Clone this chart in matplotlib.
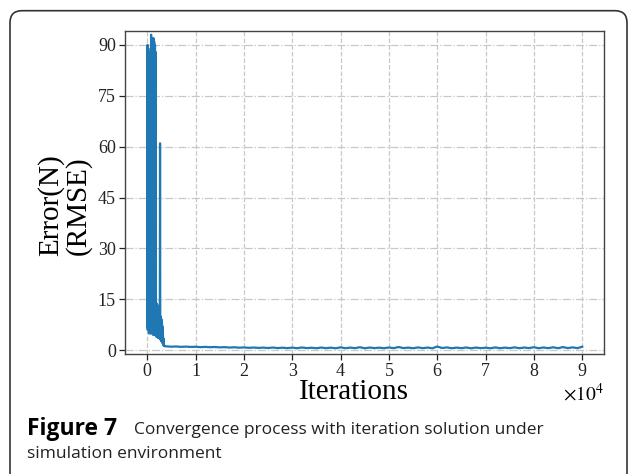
import matplotlib
matplotlib.use("Agg")
import matplotlib.pyplot as plt
import numpy as np
from matplotlib.patches import FancyBboxPatch
from matplotlib.transforms import IdentityTransform

# RMSE of the force estimate over the solver iterations
# early phase: dense oscillation while the solver searches
spike_iters = [0, 20, 40, 70, 100, 130, 160, 190, 220, 250, 280, 320, 360, 400,
               440, 480, 520, 560, 600, 640, 680, 720, 760, 800, 840, 880, 920,
               960, 1000, 1040, 1080, 1120, 1160, 1200, 1240, 1280, 1320, 1360,
               1400, 1440, 1480, 1520, 1560, 1600, 1640, 1680, 1720, 1760, 1800,
               1850, 1900, 1950, 2000, 2050, 2100, 2150, 2200, 2250, 2300, 2350,
               2400, 2450, 2500, 2550, 2600, 2650, 2700, 2750, 2800, 2850, 2900,
               2950, 3000, 3050, 3100, 3150, 3200, 3250, 3300, 3350, 3400, 3450,
               3500, 3600]
spike_err = [8, 52, 7, 90, 6, 84, 7, 88, 6, 80, 6, 38, 5, 44,
             6, 35, 5, 41, 6, 30, 5, 89, 6, 93, 5, 86, 5,
             92, 6, 88, 5, 91, 5, 84, 4.5, 92, 5, 87,
             4.5, 91, 5, 85, 4.5, 90, 4.5, 88, 4.5, 86, 4.5,
             14, 4, 13, 4, 13.5, 4, 12, 3.8, 13, 3.7, 11.5,
             3.6, 12, 3.5, 10.5, 3.4, 61, 3.3, 10, 3.0, 9.5, 2.8,
             9, 2.6, 8, 2.4, 7, 2.0, 5, 1.7, 3.5, 1.4, 2.0,
             1.3, 1.2]

# late phase: settled error, sampled every 1000 iterations
tail_iters = [4000, 5000, 6000, 7000, 8000, 9000, 10000, 11000, 12000, 13000,
              14000, 15000, 16000, 17000, 18000, 19000, 20000, 21000, 22000,
              23000, 24000, 25000, 26000, 27000, 28000, 29000, 30000, 31000,
              32000, 33000, 34000, 35000, 36000, 37000, 38000, 39000, 40000,
              41000, 42000, 43000, 44000, 45000, 46000, 47000, 48000, 49000,
              50000, 51000, 52000, 53000, 54000, 55000, 56000, 57000, 58000,
              59000, 60000, 61000, 62000, 63000, 64000, 65000, 66000, 67000,
              68000, 69000, 70000, 71000, 72000, 73000, 74000, 75000, 76000,
              77000, 78000, 79000, 80000, 81000, 82000, 83000, 84000, 85000,
              86000, 87000, 88000, 89000, 90000]
tail_err = [1.15, 1.05, 1.12, 1.00, 1.08, 0.98, 1.04, 0.92, 1.00, 0.90,
            0.96, 0.85, 0.92, 0.80, 0.88, 0.76, 0.84, 0.72, 0.80, 0.70,
            0.78, 0.66, 0.80, 0.64, 0.76, 0.62, 0.78, 0.60, 0.82, 0.64,
            0.74, 0.60, 0.80, 0.62, 0.76, 0.58, 0.86, 0.60, 0.78, 0.62,
            0.90, 0.58, 0.80, 0.64, 0.76, 0.60, 0.82, 0.62, 0.96, 0.64,
            0.78, 0.60, 0.84, 0.62, 0.80, 0.58, 1.10, 0.66, 0.84, 0.60,
            0.78, 0.62, 0.82, 0.58, 0.80, 0.62, 0.76, 0.58, 0.84, 0.60,
            0.78, 0.62, 0.86, 0.60, 0.80, 0.64, 0.90, 0.60, 0.82, 0.62,
            0.88, 0.60, 0.94, 0.64, 0.86, 0.62, 1.05]

iters = np.array(spike_iters + tail_iters) / 1e4
err = np.array(spike_err + tail_err)

xticks = [0, 1, 2, 3, 4, 5, 6, 7, 8, 9]
yticks = [0, 15, 30, 45, 60, 75, 90]

plt.rcParams['font.family'] = ['Liberation Serif', 'DejaVu Serif']
plt.rcParams['mathtext.fontset'] = 'stix'

fig = plt.figure(figsize=(6.3, 4.74), dpi=100)
ax = fig.add_axes([125 / 630, 1 - 354 / 474, 479 / 630, 323 / 474])

ax.plot(iters, err, color='#1f77b4', lw=1.6)

ax.set_xlim(-0.46, 9.45)
ax.set_ylim(-1.1, 94.1)
ax.set_xticks(xticks)
ax.set_yticks(yticks)
ax.tick_params(direction='out', length=4, width=0.9, colors='#222222',
               labelsize=13, pad=2.5)

ax.xaxis.grid(True, ls='--', color='#c8c8c8', lw=0.9)
ax.yaxis.grid(True, ls='-.', color='#c8c8c8', lw=0.9)
ax.set_axisbelow(True)
for sp in ax.spines.values():
    sp.set_color('#444444')
    sp.set_linewidth(1.0)

ax.set_xlabel('Iterations', fontsize=21)
ax.xaxis.set_label_coords(0.478, -0.077)
ax.set_ylabel('Error(N)\n(RMSE)', fontsize=21, linespacing=1.0)
ax.yaxis.set_label_coords(-0.07, 0.46)
# scale factor for the x axis, sits under the last tick like an offset text
ax.text(1.0, -0.087, r'$\times10^4$', transform=ax.transAxes,
        ha='right', va='top', fontsize=14)

# rounded frame around figure + caption
frame = FancyBboxPatch((10, -30), 617, 474 - 10.7 + 30,
                       boxstyle='round,pad=0,rounding_size=12',
                       transform=IdentityTransform(), fill=False,
                       ec='#333333', lw=1.2, clip_on=False)
fig.add_artist(frame)

cap = ['Open Sans', 'DejaVu Sans']
fig.text(27 / 630, 1 - 429 / 474, 'Figure 7', family=cap, weight='bold',
         fontsize=16.5, va='center', ha='left')
fig.text(134 / 630, 1 - 430 / 474,
         'Convergence process with iteration solution under',
         family=cap, fontsize=12.5, va='center', ha='left', color='#222222')
fig.text(27 / 630, 1 - 454 / 474, 'simulation environment',
         family=cap, fontsize=12.5, va='center', ha='left', color='#222222')

fig.savefig('out.png', dpi=100)
